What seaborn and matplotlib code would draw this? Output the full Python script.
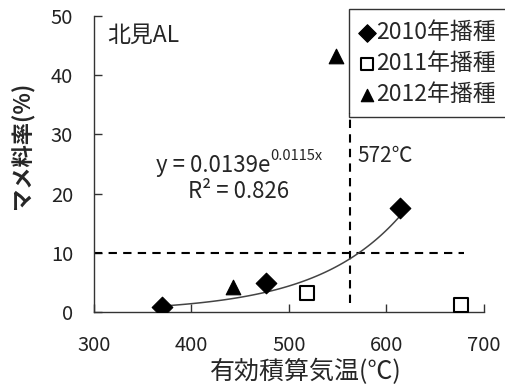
import numpy as np
import matplotlib
matplotlib.use('Agg')
import matplotlib.pyplot as plt
import seaborn as sns

# data
x_2010 = [370, 477, 614]
y_2010 = [0.9, 4.9, 17.6]
x_2011 = [519, 677]
y_2011 = [3.2, 1.2]
x_2012 = [443, 548]
y_2012 = [4.2, 43.3]
labels = ['2010年播種', '2011年播種', '2012年播種']

# exponential trend line from the fitted equation shown on the chart
coef_a = 0.0139
coef_b = 0.0115
trend_x = np.linspace(370, 614, 100)
trend_y = coef_a * np.exp(coef_b * trend_x)

threshold_y = 10
threshold_x = 563

sns.set_style('ticks')
plt.rcParams['font.family'] = ['Noto Sans CJK JP', 'DejaVu Sans']

fig = plt.figure(figsize=(5.05, 3.85), dpi=100)
ax = fig.add_axes([0.186, 0.190, 0.772, 0.768])

# reference lines
ax.plot([300, 680], [threshold_y, threshold_y], color='black', lw=1.5, ls=(0, (4, 3)), zorder=1)
ax.plot([threshold_x, threshold_x], [1.5, 33.6], color='black', lw=1.5, ls=(0, (4, 3)), zorder=1)

sns.lineplot(x=trend_x, y=trend_y, color='#444444', lw=1.1, ax=ax, zorder=2)

sns.scatterplot(x=x_2010, y=y_2010, marker='D', s=110, color='black', edgecolor='black',
                label=labels[0], ax=ax, zorder=3)
sns.scatterplot(x=x_2011, y=y_2011, marker='s', s=95, color='white', edgecolor='black',
                linewidth=1.5, label=labels[1], ax=ax, zorder=3)
sns.scatterplot(x=x_2012, y=y_2012, marker='^', s=110, color='black', edgecolor='black',
                label=labels[2], ax=ax, zorder=3)

ax.set_xlim(300, 700)
ax.set_ylim(0, 50)
ax.set_xticks([300, 400, 500, 600, 700])
ax.set_yticks([0, 10, 20, 30, 40, 50])
ax.tick_params(direction='in', length=6, width=1, labelsize=14.5, colors='#333333',
               labelcolor='#222222')
ax.tick_params(axis='x', pad=17)
ax.tick_params(axis='y', pad=15)
sns.despine(ax=ax)
for sp in ['left', 'bottom']:
    ax.spines[sp].set_color('#333333')
    ax.spines[sp].set_linewidth(1)
ax.set_xlabel('')
ax.set_ylabel('')

fig.text(306 / 505, 1 - 372 / 385, '有効積算気温(℃)', ha='center', va='center', fontsize=18)
fig.text(23 / 505, 1 - 145 / 385, 'マメ料率(%)', ha='center', va='center', fontsize=16,
         rotation=90, fontweight='bold')

ax.text(314, 46.8, '北見AL', fontsize=16.5, va='center', ha='left')
ax.text(570, 26.4, '572℃', fontsize=15, va='center', ha='left')
eq = ax.text(364, 24.8, 'y = 0.0139e', fontsize=16, va='center', ha='left')
ax.annotate('0.0115x', xy=(1, 0.6), xycoords=eq, fontsize=10.5, va='bottom', ha='left')
ax.text(448, 20.3, 'R² = 0.826', fontsize=16, va='center', ha='center')

leg = ax.legend(loc='upper left', bbox_to_anchor=(0.654, 1.024), borderaxespad=0,
                frameon=True, fancybox=False, fontsize=16.5, handletextpad=0.1,
                handlelength=0.6, borderpad=0.5, labelspacing=0.35, markerscale=0.85)
leg.get_frame().set_edgecolor('black')
leg.get_frame().set_linewidth(1)

fig.savefig('out.png', dpi=100)
